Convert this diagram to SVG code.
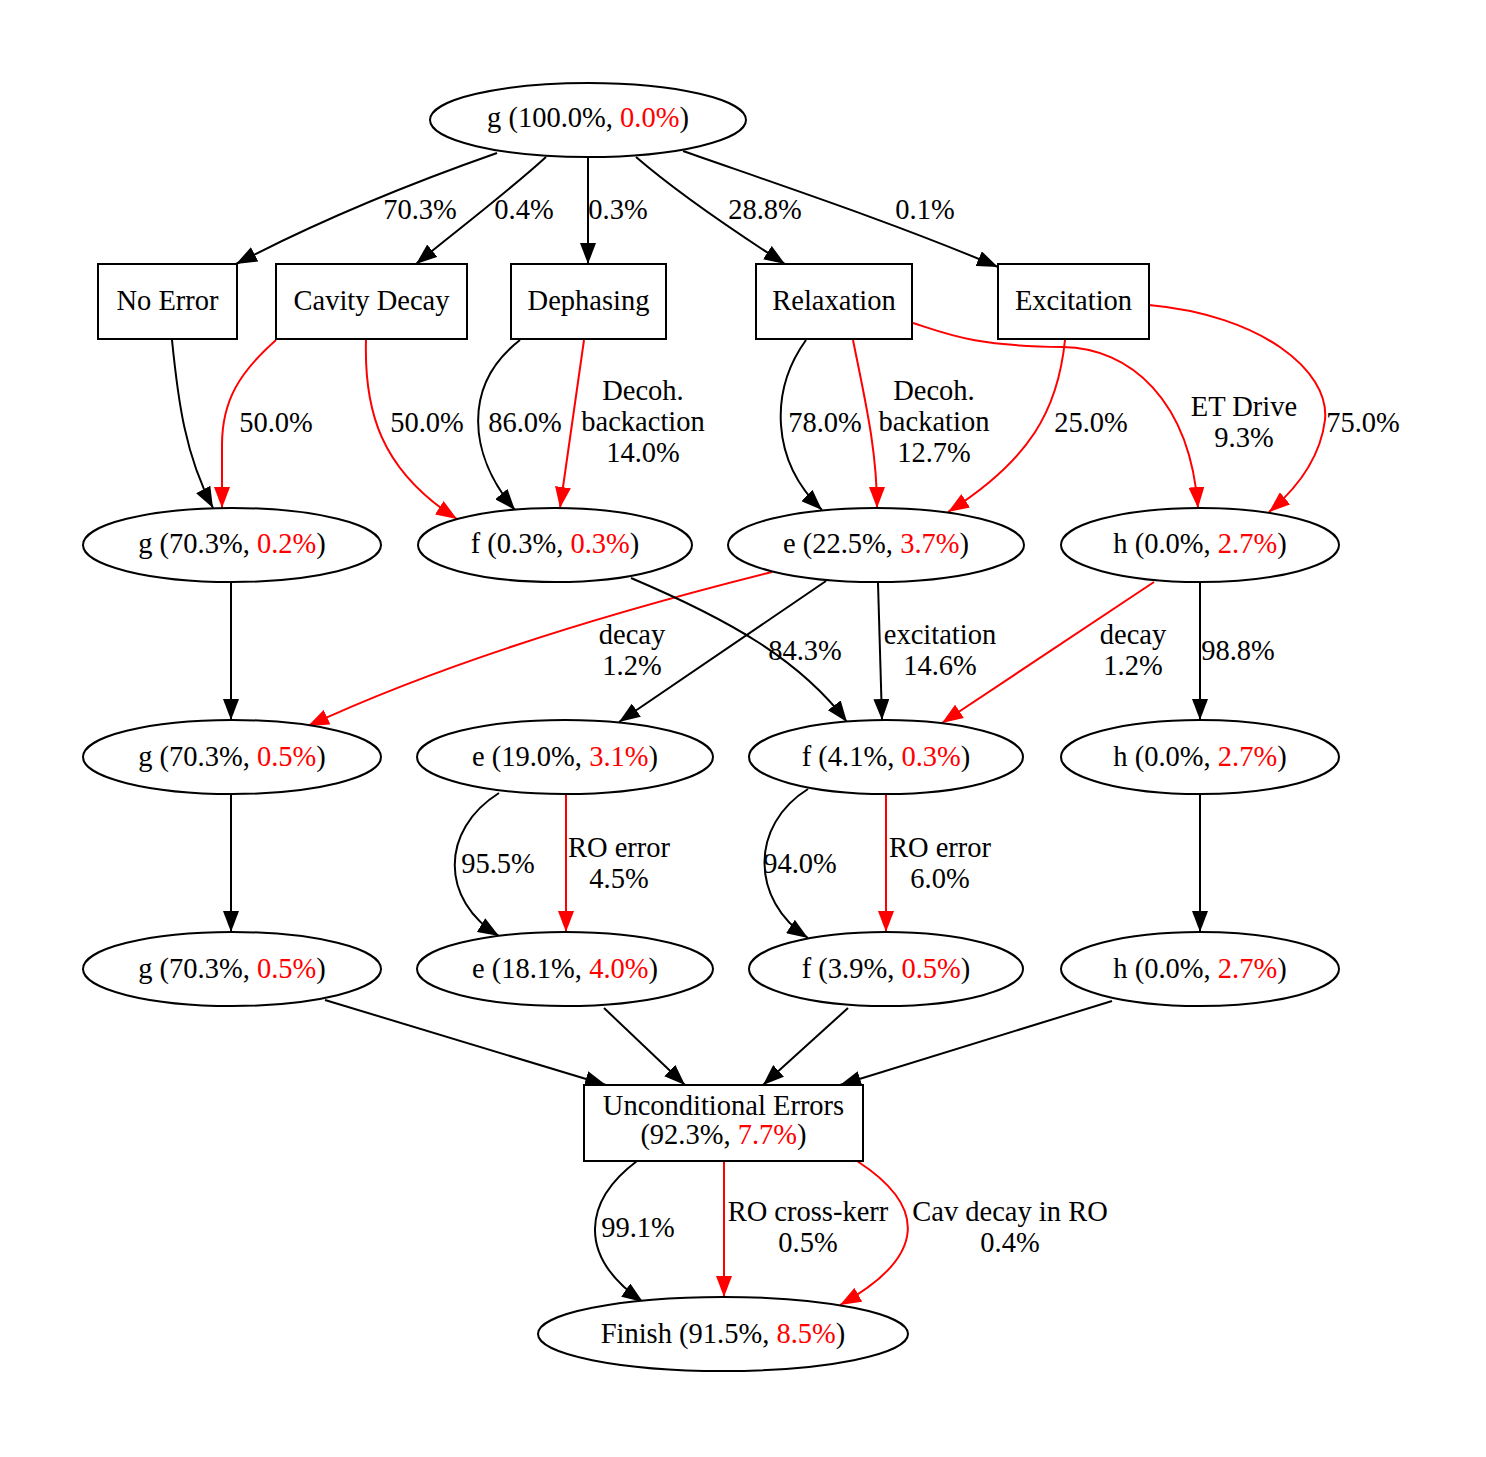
<svg xmlns="http://www.w3.org/2000/svg" width="1486" height="1457" viewBox="0 0 1486 1457">
<style>
text{font-family:"Liberation Serif","Times New Roman",serif;font-size:28.5px;fill:#000;text-anchor:middle}
.r{fill:#ff0000}
.n{fill:#fff;stroke:#000;stroke-width:2}
.e{fill:none;stroke:#000;stroke-width:2;marker-end:url(#ab)}
.er{fill:none;stroke:#ff0000;stroke-width:2;marker-end:url(#ar)}
</style>
<defs>
<marker id="ab" markerUnits="userSpaceOnUse" markerWidth="21" markerHeight="16" viewBox="0 0 21 16" refX="21" refY="8" orient="auto"><path d="M0,0 L21,8 L0,16 z" fill="#000"/></marker>
<marker id="ar" markerUnits="userSpaceOnUse" markerWidth="21" markerHeight="16" viewBox="0 0 21 16" refX="21" refY="8" orient="auto"><path d="M0,0 L21,8 L0,16 z" fill="#ff0000"/></marker>
</defs>
<rect width="1486" height="1457" fill="#fff"/>
<g id="connectors">
<path class="e" d="M497,153 C420,180 330,215 236,264"/>
<path class="e" d="M546,157 C510,190 460,228 416,264"/>
<path class="e" d="M588,158 L588,264"/>
<path class="e" d="M636,157 C680,195 740,235 785,264"/>
<path class="e" d="M683,151 C780,185 900,225 998,267"/>
<path class="e" d="M172,340 C178,400 185,455 213,508"/>
<path class="er" d="M276,340 C240,372 222,400 222,445 L222,508"/>
<path class="er" d="M366,340 C364,410 380,470 457,519"/>
<path class="e" d="M520,340 C462,385 468,455 515,510"/>
<path class="er" d="M584,340 L560,508"/>
<path class="e" d="M806,340 C770,390 770,460 822,510"/>
<path class="er" d="M853,340 C865,400 877,450 877,508"/>
<path class="er" d="M1065,340 C1058,410 1030,460 948,512"/>
<path class="er" d="M913,323 C950,335 975,346 1063,347 C1130,348 1190,400 1198,508"/>
<path class="er" d="M1149,305 C1260,315 1330,370 1325,420 C1320,460 1295,490 1269,512"/>
<path class="e" d="M231,583 L231,720"/>
<path class="er" d="M772,572 C620,610 450,660 308,726"/>
<path class="e" d="M631,578 C730,620 800,660 847,722"/>
<path class="e" d="M826,581 L619,722"/>
<path class="e" d="M878,583 L882,720"/>
<path class="er" d="M1154,582 L942,723"/>
<path class="e" d="M1200,583 L1200,720"/>
<path class="e" d="M231,795 L231,932"/>
<path class="e" d="M499,793 C440,830 440,900 499,936"/>
<path class="er" d="M566,795 L566,932"/>
<path class="e" d="M808,789 C750,825 750,900 808,938"/>
<path class="er" d="M886,795 L886,932"/>
<path class="e" d="M1200,795 L1200,932"/>
<path class="e" d="M325,1000 L606,1085"/>
<path class="e" d="M604,1008 L685,1085"/>
<path class="e" d="M848,1008 L763,1085"/>
<path class="e" d="M1112,1001 L840,1085"/>
<path class="e" d="M637,1161 C585,1200 575,1255 643,1302"/>
<path class="er" d="M724,1161 L724,1297"/>
<path class="er" d="M857,1161 C925,1205 930,1255 840,1305"/>
<text x="420" y="219">70.3%</text>
<text x="524" y="219">0.4%</text>
<text x="618" y="219">0.3%</text>
<text x="765" y="219">28.8%</text>
<text x="925" y="219">0.1%</text>
<text x="276" y="432">50.0%</text>
<text x="427" y="432">50.0%</text>
<text x="525" y="432">86.0%</text>
<text x="643" y="400">Decoh.</text>
<text x="643" y="431">backaction</text>
<text x="643" y="462">14.0%</text>
<text x="825" y="432">78.0%</text>
<text x="934" y="400">Decoh.</text>
<text x="934" y="431">backation</text>
<text x="934" y="462">12.7%</text>
<text x="1091" y="432">25.0%</text>
<text x="1244" y="416">ET Drive</text>
<text x="1244" y="447">9.3%</text>
<text x="1363" y="432">75.0%</text>
<text x="632" y="644">decay</text>
<text x="632" y="675">1.2%</text>
<text x="805" y="660">84.3%</text>
<text x="940" y="644">excitation</text>
<text x="940" y="675">14.6%</text>
<text x="1133" y="644">decay</text>
<text x="1133" y="675">1.2%</text>
<text x="1238" y="660">98.8%</text>
<text x="498" y="873">95.5%</text>
<text x="619" y="857">RO error</text>
<text x="619" y="888">4.5%</text>
<text x="800" y="873">94.0%</text>
<text x="940" y="857">RO error</text>
<text x="940" y="888">6.0%</text>
<text x="638" y="1237">99.1%</text>
<text x="808" y="1221">RO cross-kerr</text>
<text x="808" y="1252">0.5%</text>
<text x="1010" y="1221">Cav decay in RO</text>
<text x="1010" y="1252">0.4%</text>
</g>
<g id="g_start"><ellipse class="n" cx="588" cy="120" rx="158" ry="37"/><text x="588" y="127">g (100.0%, <tspan class="r">0.0%</tspan>)</text></g>
<g id="no_error"><rect class="n" x="98" y="264" width="139" height="75"/><text x="167.5" y="310">No Error</text></g>
<g id="cavity_decay"><rect class="n" x="276" y="264" width="191" height="75"/><text x="371.5" y="310">Cavity Decay</text></g>
<g id="dephasing"><rect class="n" x="511" y="264" width="155" height="75"/><text x="588.5" y="310">Dephasing</text></g>
<g id="relaxation"><rect class="n" x="756" y="264" width="156" height="75"/><text x="834" y="310">Relaxation</text></g>
<g id="excitation"><rect class="n" x="998" y="264" width="151" height="75"/><text x="1073.5" y="310">Excitation</text></g>
<g id="g1"><ellipse class="n" cx="232" cy="545" rx="149" ry="37"/><text x="232" y="553">g (70.3%, <tspan class="r">0.2%</tspan>)</text></g>
<g id="f1"><ellipse class="n" cx="555" cy="545" rx="137" ry="37"/><text x="555" y="553">f (0.3%, <tspan class="r">0.3%</tspan>)</text></g>
<g id="e1"><ellipse class="n" cx="876" cy="545" rx="148" ry="37"/><text x="876" y="553">e (22.5%, <tspan class="r">3.7%</tspan>)</text></g>
<g id="h1"><ellipse class="n" cx="1200" cy="545" rx="139" ry="37"/><text x="1200" y="553">h (0.0%, <tspan class="r">2.7%</tspan>)</text></g>
<g id="g2"><ellipse class="n" cx="232" cy="757" rx="149" ry="37"/><text x="232" y="766">g (70.3%, <tspan class="r">0.5%</tspan>)</text></g>
<g id="e2"><ellipse class="n" cx="565" cy="757" rx="148" ry="37"/><text x="565" y="766">e (19.0%, <tspan class="r">3.1%</tspan>)</text></g>
<g id="f2"><ellipse class="n" cx="886" cy="757" rx="137" ry="37"/><text x="886" y="766">f (4.1%, <tspan class="r">0.3%</tspan>)</text></g>
<g id="h2"><ellipse class="n" cx="1200" cy="757" rx="139" ry="37"/><text x="1200" y="766">h (0.0%, <tspan class="r">2.7%</tspan>)</text></g>
<g id="g3"><ellipse class="n" cx="232" cy="969" rx="149" ry="37"/><text x="232" y="978">g (70.3%, <tspan class="r">0.5%</tspan>)</text></g>
<g id="e3"><ellipse class="n" cx="565" cy="969" rx="148" ry="37"/><text x="565" y="978">e (18.1%, <tspan class="r">4.0%</tspan>)</text></g>
<g id="f3"><ellipse class="n" cx="886" cy="969" rx="137" ry="37"/><text x="886" y="978">f (3.9%, <tspan class="r">0.5%</tspan>)</text></g>
<g id="h3"><ellipse class="n" cx="1200" cy="969" rx="139" ry="37"/><text x="1200" y="978">h (0.0%, <tspan class="r">2.7%</tspan>)</text></g>
<g id="unconditional"><rect class="n" x="584" y="1085" width="279" height="76"/><text x="723.5" y="1115">Unconditional Errors</text><text x="723.5" y="1144">(92.3%, <tspan class="r">7.7%</tspan>)</text></g>
<g id="finish"><ellipse class="n" cx="723" cy="1334" rx="185" ry="37"/><text x="723" y="1343">Finish (91.5%, <tspan class="r">8.5%</tspan>)</text></g>
</svg>
